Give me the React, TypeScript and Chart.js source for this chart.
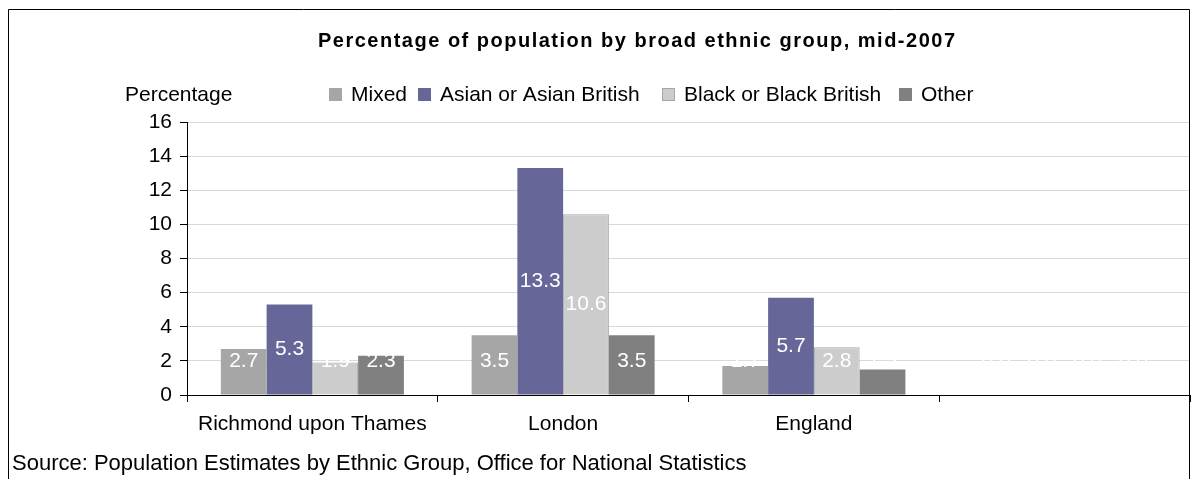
import React, { useEffect, useRef } from "react";
import { Chart, registerables } from "chart.js";

Chart.register(...registerables);

const categories = ["Richmond upon Thames", "London", "England", ""];
const seriesNames = ["Mixed", "Asian or Asian British", "Black or Black British", "Other"];
const mixed = [2.7, 3.5, 1.7, 0];
const asian = [5.3, 13.3, 5.7, 0];
const black = [1.9, 10.6, 2.8, 0];
const other = [2.3, 3.5, 1.5, 0];
const yTicks = [0, 2, 4, 6, 8, 10, 12, 14, 16];

const colors = ["#a6a6a6", "#666699", "#cccccc", "#808080"];
const borders = ["#a6a6a6", "#666699", "#a6a6a6", "#808080"];
const legendX = [329, 418, 662, 899];

const title = "Percentage of population by broad ethnic group, mid-2007";
const yAxisTitle = "Percentage";
const source = "Source: Population Estimates by Ethnic Group, Office for National Statistics";

const FONT = "'Liberation Sans', Arial, sans-serif";

export default function App() {
  const ref = useRef<HTMLCanvasElement>(null);
  useEffect(() => {
    const canvas = ref.current!;
    const deco = {
      id: "deco",
      beforeDraw(chart: any) {
        const ctx = chart.ctx;
        ctx.save();
        ctx.fillStyle = "#ffffff";
        ctx.fillRect(0, 0, chart.width, chart.height);
        ctx.restore();
      },
      afterDraw(chart: any) {
        const ctx = chart.ctx;
        ctx.save();
        // data labels
        ctx.font = `21px ${FONT}`;
        ctx.fillStyle = "#ffffff";
        ctx.textAlign = "center";
        ctx.textBaseline = "middle";
        chart.data.datasets.forEach((ds: any, di: number) => {
          const meta = chart.getDatasetMeta(di);
          meta.data.forEach((bar: any, i: number) => {
            const v = ds.data[i];
            const mid = (bar.y + bar.base) / 2;
            const y = Math.min(mid, bar.base - 33);
            ctx.fillText(v.toFixed(1), bar.x, y);
          });
        });
        // title
        ctx.fillStyle = "#000000";
        ctx.font = `bold 20px ${FONT}`;
        (ctx as any).letterSpacing = "0px";
        const tw = ctx.measureText(title).width;
        const sp = Math.max(0, (637 - tw) / (title.length - 1));
        (ctx as any).letterSpacing = `${sp}px`;
        ctx.textAlign = "left";
        ctx.fillText(title, 318, 41);
        (ctx as any).letterSpacing = "0px";
        // y axis title
        ctx.font = `21px ${FONT}`;
        ctx.textAlign = "left";
        ctx.fillText(yAxisTitle, 125, 95);
        // legend
        chart.data.datasets.forEach((ds: any, i: number) => {
          const x = legendX[i];
          ctx.fillStyle = ds.backgroundColor;
          ctx.fillRect(x, 88, 13, 13);
          ctx.strokeStyle = ds.borderColor;
          ctx.lineWidth = 1;
          ctx.strokeRect(x + 0.5, 88.5, 12, 12);
          ctx.fillStyle = "#000000";
          ctx.fillText(ds.label, x + 22, 95);
        });
        // source
        ctx.font = `22px ${FONT}`;
        ctx.fillText(source, 12, 464);
        // frame
        ctx.strokeStyle = "#000000";
        ctx.lineWidth = 1;
        ctx.beginPath();
        ctx.moveTo(8.5, 479);
        ctx.lineTo(8.5, 9.5);
        ctx.lineTo(1189.5, 9.5);
        ctx.lineTo(1189.5, 479);
        ctx.stroke();
        ctx.restore();
      },
    };
    const chart = new Chart(canvas, {
      type: "bar",
      data: {
        labels: categories,
        datasets: [mixed, asian, black, other].map((d, i) => ({
          label: seriesNames[i],
          data: d,
          backgroundColor: colors[i],
          borderColor: borders[i],
          borderWidth: i === 2 ? 1 : 0,
          categoryPercentage: 0.73,
          barPercentage: 1,
        })),
      },
      options: {
        responsive: false,
        animation: false,
        devicePixelRatio: 1,
        layout: { padding: { left: 0, right: 8, top: 122, bottom: 44 } },
        plugins: { legend: { display: false }, title: { display: false }, tooltip: { enabled: false } },
        scales: {
          x: {
            offset: true,
            grid: { drawOnChartArea: false, drawTicks: true, tickLength: 7, offset: true, color: "#000000", tickColor: "#000000" },
            border: { color: "#000000", width: 1 },
            ticks: { color: "#000000", font: { family: FONT, size: 21 }, padding: 10, maxRotation: 0, autoSkip: false },
            afterFit: (s: any) => { s.height = 40; },
          },
          y: {
            min: 0,
            max: 16,
            afterBuildTicks: (s: any) => { s.ticks = yTicks.map((v) => ({ value: v })); },
            grid: { color: "#d9d9d9", tickColor: "#000000", tickLength: 7, drawTicks: true },
            border: { color: "#000000", width: 1 },
            ticks: { color: "#000000", font: { family: FONT, size: 21 }, padding: 8 },
            afterFit: (s: any) => { s.width = 187; },
          },
        },
      },
      plugins: [deco],
    });
    return () => chart.destroy();
  }, []);
  return (
    <div style={{ position: "absolute", left: 0, top: 0, width: 1198, height: 479 }}>
      <canvas ref={ref} width={1198} height={479} />
    </div>
  );
}
